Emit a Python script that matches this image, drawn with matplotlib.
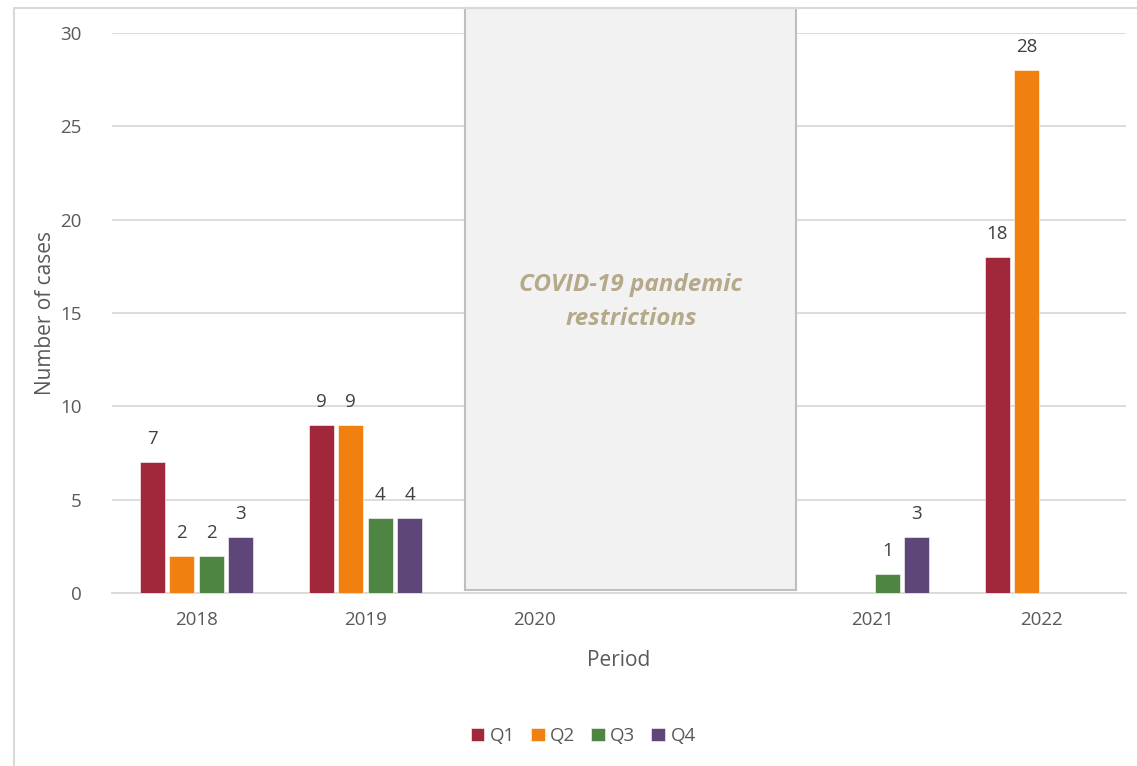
import matplotlib.pyplot as plt
from matplotlib.patches import Rectangle
import numpy as np

# Data
periods = ['2018', '2019', '2020', '', '2021', '2022']
q1 = [7, 9, np.nan, np.nan, np.nan, 18]
q2 = [2, 9, np.nan, np.nan, np.nan, 28]
q3 = [2, 4, np.nan, np.nan, 1, np.nan]
q4 = [3, 4, np.nan, np.nan, 3, np.nan]
series = {'Q1': q1, 'Q2': q2, 'Q3': q3, 'Q4': q4}
colors = ['#A1283A', '#F0800F', '#4E8542', '#5E4778']

plt.rcParams['font.family'] = ['Open Sans', 'DejaVu Sans']
txt = '#595959'
grid = '#D9D9D9'

fig = plt.figure(figsize=(11.37, 7.66), dpi=100)
ax = fig.add_axes([112/1137, 173/766, 1014/1137, 560/766])

# chart area border (extends past the right/bottom edges of the image)
fig.patches.append(Rectangle((14/1137, -0.05), 1.1, 1 - 8/766 + 0.05,
                             transform=fig.transFigure, fill=False,
                             edgecolor='#D9D9D9', linewidth=1.5))

x = np.arange(len(periods))
pitch = 0.175
width = 0.148
for i, (name, vals) in enumerate(series.items()):
    pos = x + (i - 1.5) * pitch
    ax.bar(pos, vals, width=width, color=colors[i], label=name,
           edgecolor='white', linewidth=0.4, zorder=3)
    for p, v in zip(pos, vals):
        if not np.isnan(v):
            ax.annotate(f'{v:g}', (p, v), xytext=(0, 10), textcoords='offset points',
                        ha='center', va='bottom', fontsize=13.5, color='#404040')

# COVID-19 shaded box
ax.add_patch(Rectangle((1.59, 0.15), 1.96, 31.2, facecolor='#F2F2F2',
                       edgecolor='#BFBFBF', linewidth=1.5, zorder=4, clip_on=False))
ax.text(2.57, 15.6, 'COVID-19 pandemic\nrestrictions', ha='center', va='center',
        fontsize=17.5, fontstyle='italic', fontweight='bold', color='#B5A98A',
        linespacing=1.55, zorder=5)

ax.set_xlim(-0.5, 5.5)
ax.set_ylim(0, 30)
ax.set_yticks(range(0, 31, 5))
ax.set_xticks(x)
ax.set_xticklabels(periods)
ax.tick_params(axis='both', length=0, labelsize=13.5, labelcolor=txt)
ax.tick_params(axis='y', pad=22)
ax.tick_params(axis='x', pad=13)
ax.grid(axis='y', color=grid, linewidth=1.3, zorder=0)
for s in ['top', 'right', 'left']:
    ax.spines[s].set_visible(False)
ax.spines['bottom'].set_color(grid)
ax.spines['bottom'].set_linewidth(1.3)

ax.set_xlabel('Period', fontsize=15, color=txt, labelpad=15)
ax.set_ylabel('Number of cases', fontsize=15, color=txt, labelpad=3)

fig.legend(loc='center', bbox_to_anchor=(0.513, 30/766), ncol=4, frameon=False,
           fontsize=13.5, labelcolor=txt, handlelength=0.72, handleheight=0.72,
           handletextpad=0.3, columnspacing=0.85)

fig.savefig('out.png', dpi=100)
